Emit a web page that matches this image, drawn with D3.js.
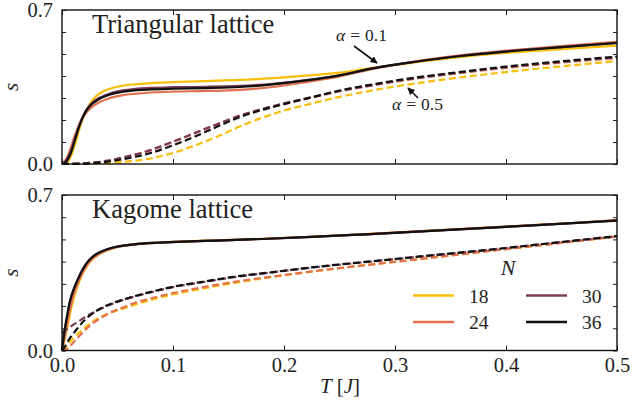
<!DOCTYPE html>
<html>
<head>
<meta charset="utf-8">
<script src="https://cdn.jsdelivr.net/npm/d3@7"></script>
<style>
body { margin: 0; background: #fff; }
text { font-family: "Liberation Serif", "DejaVu Serif", serif; fill: #222; }
</style>
</head>
<body>
<svg width="632" height="410"></svg>
<script>
// system sizes and colours
const sizes = [18, 24, 30, 36];
const colors = ["#f7be0a", "#e2704f", "#7b3b57", "#111111"];

// triangular lattice, alpha = 0.1 (solid)
const triT1 = [0, 0.004, 0.008, 0.012, 0.016, 0.021, 0.026, 0.03, 0.035, 0.04, 0.047, 0.055, 0.065, 0.08, 0.1, 0.13, 0.16, 0.19, 0.22, 0.25, 0.28, 0.32, 0.36, 0.4, 0.45, 0.5];
const triS1_18 = [0, 0.005, 0.035, 0.095, 0.165, 0.235, 0.28, 0.305, 0.324, 0.336, 0.348, 0.356, 0.362, 0.368, 0.372, 0.377, 0.382, 0.39, 0.402, 0.415, 0.437, 0.463, 0.487, 0.505, 0.522, 0.538];
const triS1_24 = [0, 0.025, 0.075, 0.135, 0.185, 0.228, 0.255, 0.27, 0.284, 0.294, 0.305, 0.313, 0.319, 0.325, 0.329, 0.332, 0.337, 0.35, 0.372, 0.398, 0.432, 0.468, 0.495, 0.515, 0.536, 0.555];
const triS1_30 = [0, 0.018, 0.06, 0.122, 0.182, 0.238, 0.272, 0.29, 0.304, 0.315, 0.327, 0.335, 0.341, 0.346, 0.349, 0.351, 0.355, 0.364, 0.381, 0.403, 0.435, 0.466, 0.492, 0.512, 0.531, 0.551];
const triS1_36 = [0, 0.012, 0.05, 0.115, 0.178, 0.235, 0.268, 0.284, 0.3, 0.31, 0.321, 0.329, 0.335, 0.339, 0.342, 0.345, 0.35, 0.362, 0.38, 0.403, 0.435, 0.466, 0.491, 0.511, 0.531, 0.55];

// triangular lattice, alpha = 0.5 (dashed)
const triT5 = [0, 0.02, 0.04, 0.06, 0.08, 0.1, 0.12, 0.14, 0.16, 0.18, 0.2, 0.225, 0.25, 0.28, 0.31, 0.35, 0.4, 0.45, 0.5];
const triS5_18 = [0, 0.001, 0.004, 0.012, 0.025, 0.05, 0.085, 0.125, 0.17, 0.21, 0.243, 0.275, 0.305, 0.335, 0.36, 0.388, 0.418, 0.444, 0.468];
const triS5_24 = [0, 0.003, 0.014, 0.035, 0.062, 0.1, 0.14, 0.18, 0.218, 0.248, 0.274, 0.302, 0.33, 0.357, 0.382, 0.408, 0.437, 0.461, 0.482];
const triS5_30 = [0, 0.003, 0.014, 0.036, 0.064, 0.102, 0.142, 0.182, 0.22, 0.25, 0.276, 0.304, 0.332, 0.359, 0.384, 0.41, 0.44, 0.464, 0.485];
const triS5_36 = [0, 0.002, 0.01, 0.027, 0.05, 0.085, 0.125, 0.17, 0.213, 0.245, 0.272, 0.303, 0.334, 0.362, 0.387, 0.413, 0.443, 0.467, 0.488];

// kagome lattice, alpha = 0.1 (solid)
const kagT1 = [0, 0.002, 0.004, 0.007, 0.01, 0.014, 0.018, 0.022, 0.027, 0.033, 0.04, 0.05, 0.065, 0.085, 0.11, 0.14, 0.18, 0.22, 0.27, 0.32, 0.37, 0.42, 0.46, 0.5];
const kagS1_18 = [0, 0.04, 0.085, 0.16, 0.225, 0.29, 0.34, 0.376, 0.408, 0.432, 0.449, 0.466, 0.477, 0.485, 0.491, 0.496, 0.503, 0.511, 0.523, 0.536, 0.55, 0.563, 0.574, 0.586];
const kagS1_24 = [0, 0.05, 0.1, 0.18, 0.242, 0.3, 0.346, 0.381, 0.412, 0.434, 0.451, 0.466, 0.477, 0.485, 0.49, 0.495, 0.502, 0.511, 0.523, 0.536, 0.55, 0.563, 0.574, 0.587];
const kagS1_30 = [0, 0.075, 0.135, 0.215, 0.265, 0.315, 0.357, 0.39, 0.418, 0.439, 0.454, 0.468, 0.478, 0.485, 0.49, 0.495, 0.502, 0.51, 0.522, 0.535, 0.549, 0.562, 0.573, 0.586];
const kagS1_36 = [0, 0.08, 0.14, 0.22, 0.27, 0.318, 0.36, 0.392, 0.42, 0.44, 0.455, 0.468, 0.478, 0.485, 0.49, 0.495, 0.502, 0.51, 0.522, 0.535, 0.549, 0.562, 0.573, 0.585];

// kagome lattice, alpha = 0.5 (dashed)
const kagT5 = [0, 0.002, 0.004, 0.007, 0.01, 0.014, 0.02, 0.027, 0.035, 0.045, 0.055, 0.07, 0.085, 0.1, 0.125, 0.155, 0.19, 0.23, 0.28, 0.33, 0.38, 0.44, 0.5];
const kagS5_18 = [0, 0.005, 0.018, 0.038, 0.055, 0.075, 0.1, 0.128, 0.152, 0.172, 0.188, 0.213, 0.234, 0.252, 0.277, 0.304, 0.331, 0.358, 0.388, 0.416, 0.445, 0.479, 0.513];
const kagS5_24 = [0, 0, 0.004, 0.018, 0.035, 0.057, 0.088, 0.12, 0.147, 0.174, 0.194, 0.221, 0.241, 0.259, 0.283, 0.309, 0.333, 0.359, 0.388, 0.416, 0.445, 0.479, 0.513];
const kagS5_30 = [0.08, 0.087, 0.095, 0.105, 0.115, 0.128, 0.148, 0.168, 0.188, 0.209, 0.227, 0.249, 0.268, 0.285, 0.306, 0.33, 0.352, 0.376, 0.401, 0.426, 0.451, 0.483, 0.515];
const kagS5_36 = [0, 0.012, 0.03, 0.055, 0.075, 0.1, 0.135, 0.165, 0.19, 0.212, 0.229, 0.251, 0.27, 0.287, 0.308, 0.332, 0.353, 0.377, 0.402, 0.427, 0.451, 0.483, 0.515];

const xTicks = [0, 0.1, 0.2, 0.3, 0.4, 0.5];
const yTicks = [0, 0.1, 0.2, 0.3, 0.4, 0.5, 0.6, 0.7];

const svg = d3.select("svg");
const left = 62, right = 617;
const x = d3.scaleLinear().domain([0, 0.5]).range([left, right]);

svg.append("defs").append("marker")
    .attr("id", "head")
    .attr("viewBox", "0 0 10 10")
    .attr("refX", 9).attr("refY", 5)
    .attr("markerWidth", 4.5).attr("markerHeight", 4.5)
    .attr("orient", "auto")
    .append("path").attr("d", "M0,0L10,5L0,10z").attr("fill", "#111");

function drawPanel(p) {
    const y = d3.scaleLinear().domain([0, 0.7]).range([p.bottom, p.top]);
    const g = svg.append("g");

    const line = d3.line()
        .x(d => x(d[0]))
        .y(d => y(d[1]))
        .curve(d3.curveMonotoneX);

    // one solid and one dashed curve for each N
    sizes.forEach((n, i) => {
        g.append("path")
            .attr("d", line(p.t1.map((t, k) => [t, p.s1[i][k]])))
            .attr("fill", "none")
            .attr("stroke", colors[i])
            .attr("stroke-width", 2.2);
        g.append("path")
            .attr("d", line(p.t5.map((t, k) => [t, p.s5[i][k]])))
            .attr("fill", "none")
            .attr("stroke", colors[i])
            .attr("stroke-width", 2.2)
            .attr("stroke-dasharray", "7,3.5");
    });

    const fmt = d3.format(".1f");
    const yLab = d => (d === 0 || d === 0.7) ? fmt(d) : "";

    const axL = g.append("g").attr("transform", `translate(${left},0)`)
        .call(d3.axisLeft(y).tickValues(yTicks).tickSize(-4).tickPadding(9).tickFormat(yLab));
    const axR = g.append("g").attr("transform", `translate(${right},0)`)
        .call(d3.axisRight(y).tickValues(yTicks).tickSize(-4).tickFormat(""));
    const axT = g.append("g").attr("transform", `translate(0,${p.top})`)
        .call(d3.axisTop(x).tickValues(xTicks).tickSize(-5).tickFormat(""));
    const axB = g.append("g").attr("transform", `translate(0,${p.bottom})`)
        .call(d3.axisBottom(x).tickValues(xTicks).tickSize(-5).tickPadding(7)
            .tickFormat(p.xLabels ? fmt : ""));

    [axL, axR, axT, axB].forEach(a => {
        a.attr("font-family", null);
        a.select(".domain").remove();
        a.selectAll("line").attr("stroke", "#222").attr("stroke-width", 1);
        a.selectAll("text").attr("font-size", 20.5).attr("fill", "#2a2a2a");
    });

    g.append("rect")
        .attr("x", left).attr("y", p.top)
        .attr("width", right - left).attr("height", p.bottom - p.top)
        .attr("fill", "none").attr("stroke", "#111").attr("stroke-width", 1.4);

    g.append("text")
        .attr("x", 92).attr("y", p.top + 23)
        .attr("font-size", 26.5)
        .text(p.title);

    g.append("text")
        .attr("transform", `translate(18,${(p.top + p.bottom) / 2}) rotate(-90)`)
        .attr("text-anchor", "middle")
        .attr("font-size", 21).attr("font-style", "italic")
        .text("s");

    return y;
}

drawPanel({
    top: 10, bottom: 164, title: "Triangular lattice", xLabels: false,
    t1: triT1, s1: [triS1_18, triS1_24, triS1_30, triS1_36],
    t5: triT5, s5: [triS5_18, triS5_24, triS5_30, triS5_36]
});

drawPanel({
    top: 195, bottom: 350.5, title: "Kagome lattice", xLabels: true,
    t1: kagT1, s1: [kagS1_18, kagS1_24, kagS1_30, kagS1_36],
    t5: kagT5, s5: [kagS5_18, kagS5_24, kagS5_30, kagS5_36]
});

// annotations
function alphaLabel(xp, yp, val) {
    const t = svg.append("text").attr("x", xp).attr("y", yp).attr("font-size", 17.5);
    t.append("tspan").attr("font-style", "italic").text("α");
    t.append("tspan").attr("dx", 5).text("=");
    t.append("tspan").attr("dx", 5).text(val);
}
alphaLabel(336, 41, "0.1");
alphaLabel(392, 110, "0.5");

svg.append("line")
    .attr("x1", 354).attr("y1", 46).attr("x2", 377).attr("y2", 63)
    .attr("stroke", "#111").attr("stroke-width", 1.6).attr("marker-end", "url(#head)");
svg.append("line")
    .attr("x1", 418).attr("y1", 98).attr("x2", 408).attr("y2", 88)
    .attr("stroke", "#111").attr("stroke-width", 1.6).attr("marker-end", "url(#head)");

// x label
const xl = svg.append("text").attr("x", 340).attr("y", 393)
    .attr("text-anchor", "middle").attr("font-size", 21);
xl.append("tspan").attr("font-style", "italic").text("T");
xl.append("tspan").attr("dx", 5).text("[");
xl.append("tspan").attr("font-style", "italic").text("J");
xl.append("tspan").text("]");

// legend
const leg = svg.append("g");
leg.append("text").attr("x", 508).attr("y", 275)
    .attr("text-anchor", "middle").attr("font-size", 22).attr("font-style", "italic").text("N");
sizes.forEach((n, i) => {
    const col = Math.floor(i / 2), row = i % 2;
    const lx = 413 + col * 113, ly = 295.5 + row * 26.5;
    leg.append("line")
        .attr("x1", lx).attr("x2", lx + 41).attr("y1", ly).attr("y2", ly)
        .attr("stroke", colors[i]).attr("stroke-width", 2.5);
    leg.append("text")
        .attr("x", lx + 56).attr("y", ly + 7)
        .attr("font-size", 19.5).text(n);
});
</script>
</body>
</html>
